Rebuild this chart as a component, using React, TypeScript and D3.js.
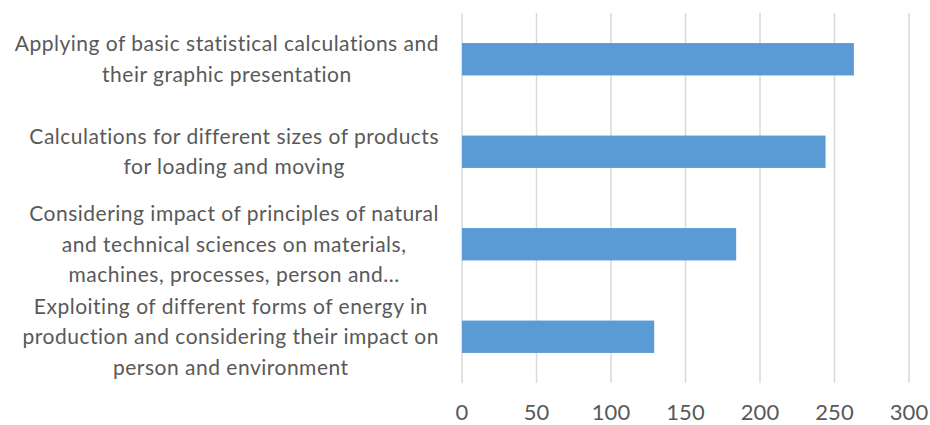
import React, { useEffect, useRef } from 'react';
import * as d3 from 'd3';

// category labels, already wrapped the way the original chart shows them
const categories = [
  ['Applying of basic statistical calculations and', 'their graphic presentation'],
  ['Calculations for different sizes of products', 'for loading and moving'],
  ['Considering impact of principles of natural', 'and technical sciences on materials,', 'machines, processes, person and...'],
  ['Exploiting of different forms of energy in', 'production and considering their impact on', 'person and environment'],
];
const values = [263, 244, 184, 129];
const xTicks = [0, 50, 100, 150, 200, 250, 300];

const W = 930;
const H = 425;
const FONT = 'Lato, "Open Sans", sans-serif';
const TEXT = '#595959';

export default function App() {
  const ref = useRef<SVGSVGElement>(null);

  useEffect(() => {
    const svg = d3.select(ref.current);
    svg.selectAll('*').remove();

    const margin = { top: 13, right: 21, bottom: 42, left: 462 };

    const x = d3.scaleLinear()
      .domain([0, 300])
      .range([margin.left, W - margin.right]);

    const y = d3.scaleBand<number>()
      .domain(d3.range(categories.length))
      .range([margin.top, H - margin.bottom])
      .paddingInner(0.65)
      .paddingOuter(0.325);

    // gridlines
    svg.append('g')
      .selectAll('line')
      .data(xTicks)
      .enter().append('line')
      .attr('x1', d => x(d)).attr('x2', d => x(d))
      .attr('y1', margin.top).attr('y2', H - margin.bottom)
      .attr('stroke', '#d9d9d9')
      .attr('stroke-width', 1.5);

    // bars
    svg.append('g')
      .selectAll('rect')
      .data(values)
      .enter().append('rect')
      .attr('x', x(0))
      .attr('y', (d, i) => y(i)!)
      .attr('width', d => x(d) - x(0))
      .attr('height', y.bandwidth())
      .attr('fill', '#5b9bd5');

    // x tick labels
    svg.append('g')
      .selectAll('text')
      .data(xTicks)
      .enter().append('text')
      .attr('x', d => x(d))
      .attr('y', H - margin.bottom + 29)
      .attr('dy', '0.35em')
      .attr('text-anchor', 'middle')
      .attr('font-family', FONT)
      .attr('font-size', 22)
      .attr('fill', TEXT)
      .text(d => d);

    // category labels: lines centred on each other, block right-aligned to the axis gap
    const lineH = 30.5;
    const rightEdge = x(0) - 23;
    categories.forEach((lines, i) => {
      const cy = y(i)! + y.bandwidth() / 2;
      const g = svg.append('g');
      const texts = g.selectAll('text')
        .data(lines)
        .enter().append('text')
        .attr('y', (d, j) => cy + (j - (lines.length - 1) / 2) * lineH)
        .attr('dy', '0.35em')
        .attr('text-anchor', 'middle')
        .attr('font-family', FONT)
        .attr('font-size', 21)
        .attr('letter-spacing', 0.5)
        .attr('fill', TEXT)
        .text(d => d);
      let maxW = 0;
      texts.each(function () {
        maxW = Math.max(maxW, (this as SVGTextElement).getComputedTextLength());
      });
      texts.attr('x', rightEdge - maxW / 2);
    });
  }, []);

  return (
    <svg ref={ref} width={W} height={H}
      style={{ position: 'absolute', left: 0, top: 0, background: '#fff' }} />
  );
}
